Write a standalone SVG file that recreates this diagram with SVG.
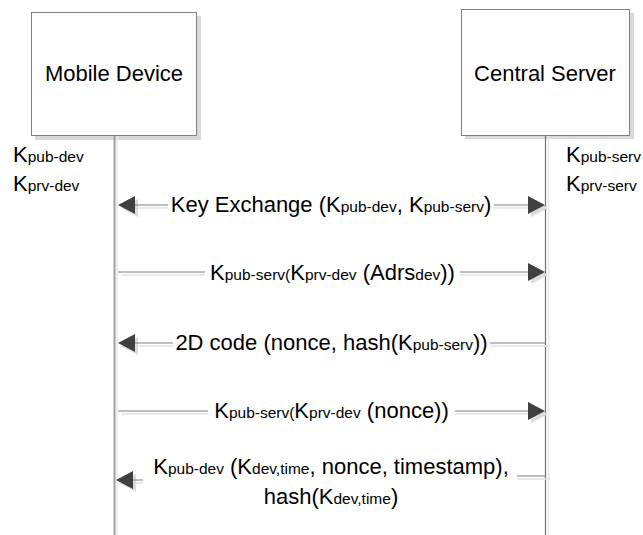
<svg xmlns="http://www.w3.org/2000/svg" width="643" height="535" viewBox="0 0 643 535">
<style>
text{font-family:"Liberation Sans",Arial,sans-serif;fill:#000;font-size:22px}
.s{font-size:15.5px}
.box{fill:#fff;stroke:#808080;stroke-width:1}
.boxsh{fill:#d9d9d9}
.ln{stroke:#808080;stroke-width:1.2;fill:none}
.lnsh{stroke:#e3e3e3;stroke-width:1.5;fill:none}
.ah{fill:#404040}
.ahsh{fill:#dcdcdc}
</style>
<rect width="643" height="535" fill="#fff"/>
<g id="mobile-device">
<rect class="boxsh" x="35" y="16" width="166" height="124"/>
<rect class="box" x="31.5" y="12.5" width="165" height="123"/>
<text x="114" y="81" text-anchor="middle" font-size="22.5">Mobile Device</text>
<line x1="117" y1="136" x2="117" y2="535" stroke="#e6e6e6" stroke-width="1.5"/>
<line x1="114.5" y1="136" x2="114.5" y2="535" stroke="#a0a0a0" stroke-width="2"/>
<text x="13" y="162">K<tspan class="s">pub-dev</tspan></text>
<text x="13" y="191">K<tspan class="s">prv-dev</tspan></text>
</g>
<g id="central-server">
<rect class="boxsh" x="465" y="13" width="169" height="126"/>
<rect class="box" x="461.5" y="9.5" width="168" height="126"/>
<text x="545" y="81" text-anchor="middle" font-size="22.5">Central Server</text>
<line x1="548.5" y1="136" x2="548.5" y2="535" stroke="#e6e6e6" stroke-width="1.5"/>
<line x1="545.5" y1="136" x2="545.5" y2="535" stroke="#707070" stroke-width="1.2"/>
<text x="566" y="162">K<tspan class="s">pub-serv</tspan></text>
<text x="566" y="191">K<tspan class="s">prv-serv</tspan></text>
</g>
<g id="connectors">
<!-- msg1 -->
<g id="msg1">
<path class="lnsh" d="M138 208H168M494 208H528"/>
<polygon class="ahsh" points="121,208 138,199 138,217"/>
<polygon class="ahsh" points="548,208 531,199 531,217"/>
<path class="ln" d="M135 205H168M494 205H528"/>
<polygon class="ah" points="118,205 135,196 135,214"/>
<polygon class="ah" points="545,205 528,196 528,214"/>
<text x="331" y="212" text-anchor="middle">Key Exchange (K<tspan class="s">pub-dev</tspan>, K<tspan class="s">pub-serv</tspan>)</text>
</g>
<g id="msg2">
<path class="lnsh" d="M121 275H205M460 275H528"/>
<polygon class="ahsh" points="548,275 531,266 531,284"/>
<path class="ln" d="M118 272H205M460 272H528"/>
<polygon class="ah" points="545,272 528,263 528,281"/>
<text x="332.5" y="280" text-anchor="middle">K<tspan class="s">pub-serv(</tspan>K<tspan class="s">prv-dev</tspan> (Adrs<tspan class="s">dev</tspan>))</text>
</g>
<g id="msg3">
<path class="lnsh" d="M138 346H173M490 346H550"/>
<polygon class="ahsh" points="121,346 138,337 138,355"/>
<path class="ln" d="M135 343H173M490 343H546"/>
<polygon class="ah" points="118,343 135,334 135,352"/>
<text x="331.5" y="350" text-anchor="middle">2D code (nonce, hash(K<tspan class="s">pub-serv</tspan>))</text>
</g>
<g id="msg4">
<path class="lnsh" d="M121 414H208M455 414H528"/>
<polygon class="ahsh" points="548,414 531,405 531,423"/>
<path class="ln" d="M118 411H208M455 411H528"/>
<polygon class="ah" points="545,411 528,402 528,420"/>
<text x="331.5" y="418" text-anchor="middle">K<tspan class="s">pub-serv(</tspan>K<tspan class="s">prv-dev</tspan> (nonce))</text>
</g>
<g id="msg5">
<path class="lnsh" d="M136 483H143M517 479H550"/>
<polygon class="ahsh" points="119,483 136,474 136,492"/>
<path class="ln" d="M133 480H143M517 476H546"/>
<polygon class="ah" points="116,480 133,471 133,489"/>
<text x="331" y="474" text-anchor="middle">K<tspan class="s">pub-dev</tspan> (K<tspan class="s">dev,time</tspan>, nonce, timestamp),</text>
<text x="331" y="504" text-anchor="middle">hash(K<tspan class="s">dev,time</tspan>)</text>
</g>
</g>
</svg>
